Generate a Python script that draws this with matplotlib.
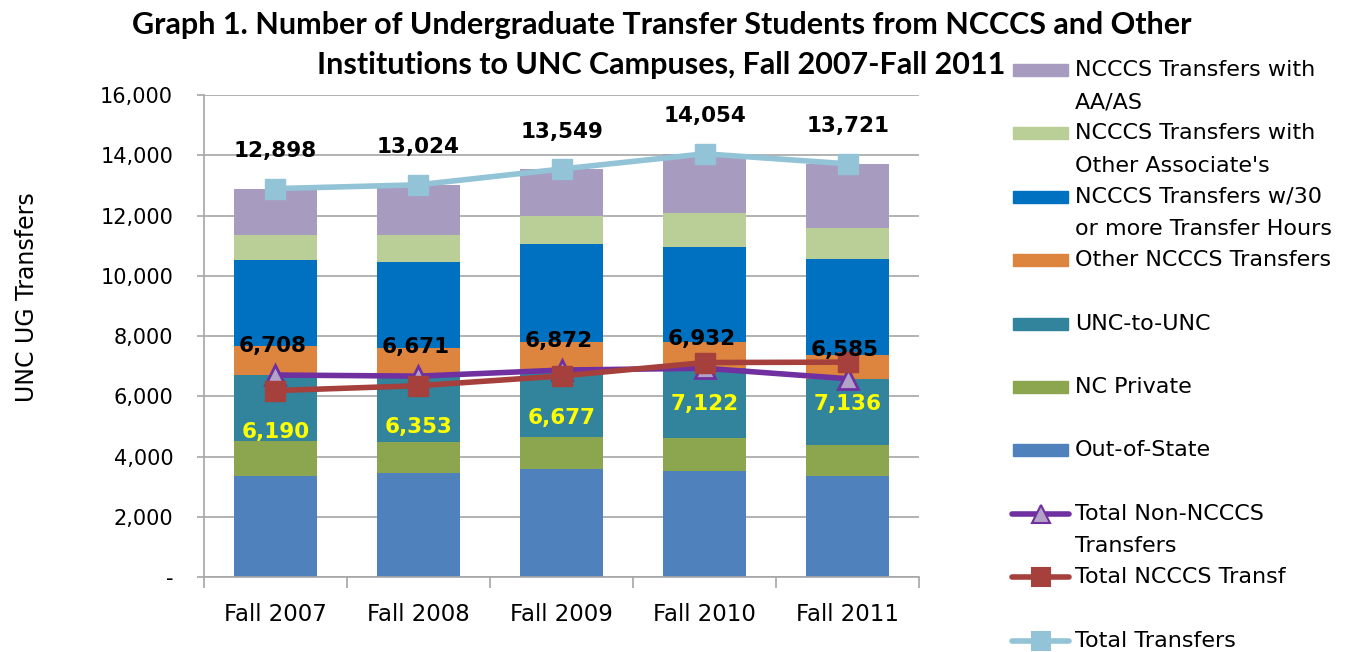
import numpy as np
import matplotlib
matplotlib.use('Agg')
import matplotlib.pyplot as plt
from matplotlib.patches import Rectangle
from matplotlib.lines import Line2D
from matplotlib.ticker import FuncFormatter, MultipleLocator

plt.rcParams['font.family'] = ['DejaVu Sans']

years = ['Fall 2007', 'Fall 2008', 'Fall 2009', 'Fall 2010', 'Fall 2011']

# stacked segments, bottom to top
out_of_state = [3355, 3444, 3588, 3533, 3355]
nc_private = [1175, 1041, 1074, 1085, 1030]
unc_to_unc = [2178, 2186, 2210, 2314, 2200]
other_ncccs = [977, 926, 946, 886, 779]
ncccs_w30 = [2835, 2879, 3245, 3157, 3201]
ncccs_other_assoc = [850, 897, 941, 1118, 1030]
ncccs_aa_as = [1528, 1651, 1545, 1961, 2126]

# line series
total_non_ncccs = [6708, 6671, 6872, 6932, 6585]
total_ncccs = [6190, 6353, 6677, 7122, 7136]
total_transfers = [12898, 13024, 13549, 14054, 13721]

seg_names = ['Out-of-State', 'NC Private', 'UNC-to-UNC', 'Other NCCCS Transfers',
             'NCCCS Transfers w/30\nor more Transfer Hours',
             "NCCCS Transfers with\nOther Associate's", 'NCCCS Transfers with\nAA/AS']
seg_vals = [out_of_state, nc_private, unc_to_unc, other_ncccs, ncccs_w30,
            ncccs_other_assoc, ncccs_aa_as]
seg_colors = ['#4F81BD', '#8BA64E', '#31849B', '#DD843E', '#0070C0', '#BACF98', '#A89BC0']

c_non = '#7030A0'
c_non_fill = '#B3A2C7'
c_nc = '#A5403C'
c_tot = '#92C3D6'

fig = plt.figure(figsize=(13.58, 6.52), dpi=100)
ax = fig.add_axes([0.150, 0.115, 0.527, 0.739])

x = np.arange(len(years))
bottom = np.zeros(len(years))
for vals, col in zip(seg_vals, seg_colors):
    ax.bar(x, vals, width=0.58, bottom=bottom, color=col, zorder=2)
    bottom += np.array(vals)

ax.plot(x, total_non_ncccs, color=c_non, lw=4, marker='^', ms=15,
        mfc=c_non_fill, mec=c_non, mew=2, zorder=4)
ax.plot(x, total_ncccs, color=c_nc, lw=4, marker='s', ms=15,
        mfc=c_nc, mec=c_nc, zorder=4)
ax.plot(x, total_transfers, color=c_tot, lw=4, marker='s', ms=15,
        mfc=c_tot, mec=c_tot, zorder=4)

lab_font = dict(fontsize=15.5, fontweight='bold', ha='center', va='center', zorder=6)
for i in x:
    ax.annotate(f'{total_transfers[i]:,}', (i, total_transfers[i]), xytext=(0, 27),
                textcoords='offset points', color='black', **lab_font)
    ax.annotate(f'{total_non_ncccs[i]:,}', (i, total_non_ncccs[i]), xytext=(-2, 21),
                textcoords='offset points', color='black', **lab_font)
    ax.annotate(f'{total_ncccs[i]:,}', (i, total_ncccs[i]), xytext=(0, -30),
                textcoords='offset points', color='#FFFF00', **lab_font)

ax.set_xlim(-0.5, 4.5)
ax.set_ylim(0, 16000)
ax.yaxis.set_major_locator(MultipleLocator(2000))
ax.yaxis.set_major_formatter(FuncFormatter(lambda v, p: '-' if v == 0 else f'{v:,.0f}'))
ax.grid(axis='y', color='#A6A6A6', lw=1.2, zorder=0)
ax.set_axisbelow(True)

ax.set_xticks(x)
ax.set_xticklabels(years, fontsize=16.5)
ax.set_xticks(np.arange(-0.5, 5, 1), minor=True)
ax.tick_params(axis='x', which='major', length=0, pad=19)
ax.tick_params(axis='x', which='minor', length=8, color='#A6A6A6', width=1.2)
ax.tick_params(axis='y', length=5, color='#A6A6A6', width=1.2, labelsize=15, pad=17)
for s in ['top', 'right']:
    ax.spines[s].set_visible(False)
for s in ['left', 'bottom']:
    ax.spines[s].set_color('#A6A6A6')
    ax.spines[s].set_linewidth(1.2)

fig.text(27 / 1358, 1 - 297 / 652, 'UNC UG Transfers', rotation=90, ha='center',
         va='center', fontsize=17)

fig.text(0.487, 0.962, 'Graph 1. Number of Undergraduate Transfer Students from NCCCS and Other',
         ha='center', va='center', fontsize=22, fontweight='bold', family='Lato')
fig.text(0.487, 0.900, 'Institutions to UNC Campuses, Fall 2007-Fall 2011',
         ha='center', va='center', fontsize=22, fontweight='bold', family='Lato')

# legend drawn at the right, top entry first
W, H = 1358.0, 652.0
entries = [(seg_names[i], 'patch', seg_colors[i]) for i in range(6, -1, -1)]
entries += [('Total Non-NCCCS\nTransfers', 'tri', c_non),
            ('Total NCCCS Transf', 'sq', c_nc),
            ('Total Transfers', 'sq', c_tot)]
y0 = 70
step = 63.4
for k, (name, kind, col) in enumerate(entries):
    yc = y0 + k * step
    fy = 1 - yc / H
    if kind == 'patch':
        fig.patches.append(Rectangle((1013 / W, fy - 6 / H), 55 / W, 12 / H,
                                     transform=fig.transFigure, color=col))
    else:
        mfc = c_non_fill if kind == 'tri' else col
        mk = '^' if kind == 'tri' else 's'
        fig.lines.append(Line2D([1012 / W, 1069 / W], [fy, fy], transform=fig.transFigure,
                                color=col, lw=4, solid_capstyle='round'))
        fig.lines.append(Line2D([1040.5 / W], [fy], transform=fig.transFigure,
                                color=col, marker=mk, ms=13, mfc=mfc, mec=col, mew=1.5))
    lines = name.split('\n')
    for j, ln in enumerate(lines):
        fig.text(1075 / W, 1 - (yc + j * 32.5) / H, ln, ha='left', va='center',
                 fontsize=16)

fig.savefig('out.png', dpi=100)
